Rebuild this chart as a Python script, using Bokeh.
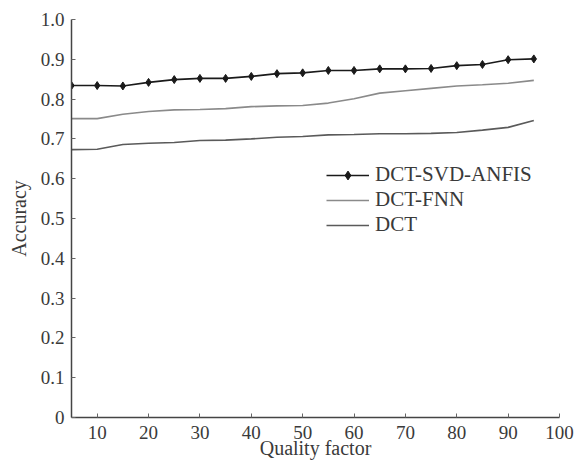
from bokeh.plotting import figure
from bokeh.models import FixedTicker, Legend, LegendItem, Range1d
from bokeh.embed import file_html
from bokeh.resources import INLINE

quality = [5, 10, 15, 20, 25, 30, 35, 40, 45, 50, 55, 60, 65, 70, 75, 80, 85, 90, 95]
dct_svd_anfis = [0.834, 0.834, 0.833, 0.842, 0.849, 0.852, 0.852, 0.857, 0.864, 0.866,
                 0.872, 0.872, 0.876, 0.876, 0.877, 0.884, 0.887, 0.899, 0.901]
dct_fnn = [0.751, 0.751, 0.762, 0.769, 0.773, 0.774, 0.776, 0.781, 0.783, 0.784,
           0.790, 0.801, 0.815, 0.821, 0.827, 0.833, 0.836, 0.840, 0.847]
dct = [0.673, 0.674, 0.686, 0.689, 0.691, 0.696, 0.697, 0.700, 0.704, 0.706,
       0.710, 0.711, 0.713, 0.713, 0.714, 0.716, 0.722, 0.729, 0.746]
x_ticks = [10, 20, 30, 40, 50, 60, 70, 80, 90, 100]
y_ticks = [0, 0.1, 0.2, 0.3, 0.4, 0.5, 0.6, 0.7, 0.8, 0.9, 1.0]
y_tick_labels = ["0", "0.1", "0.2", "0.3", "0.4", "0.5", "0.6", "0.7", "0.8", "0.9", "1.0"]

FONT = "'Liberation Serif', 'Times New Roman', serif"
TXT = "#3a3a3a"

p = figure(width=575, height=462, output_backend="svg", toolbar_location=None,
           x_range=Range1d(5, 100), y_range=Range1d(0, 1.0),
           min_border_left=71, min_border_right=16, min_border_top=19, min_border_bottom=45)
p.outline_line_color = None
p.xgrid.visible = False
p.ygrid.visible = False
p.background_fill_color = "white"

for ax in (p.xaxis[0], p.yaxis[0]):
    ax.axis_line_color = "#444444"
    ax.axis_line_width = 1.5
    ax.major_tick_in = 4
    ax.major_tick_out = 0
    ax.minor_tick_in = 0
    ax.minor_tick_out = 0
    ax.major_tick_line_color = "#666666"
    ax.major_label_text_font = FONT
    ax.major_label_text_font_size = "19px"
    ax.major_label_text_color = TXT
    ax.axis_label_text_font = FONT
    ax.axis_label_text_font_size = "20px"
    ax.axis_label_text_font_style = "normal"
    ax.axis_label_text_color = TXT

p.xaxis.ticker = FixedTicker(ticks=x_ticks)
p.yaxis.ticker = FixedTicker(ticks=y_ticks)
p.yaxis.major_label_overrides = {t: s for t, s in zip(y_ticks, y_tick_labels)}
p.xaxis.axis_label = "Quality factor"
p.yaxis.axis_label = "Accuracy"
p.xaxis.major_label_standoff = 8
p.xaxis.axis_label_standoff = -5
p.yaxis.major_label_standoff = 7
p.yaxis.axis_label_standoff = 8

r1 = p.line(quality, dct_svd_anfis, line_color="#1a1a1a", line_width=1.6)
r1m = p.scatter(quality, dct_svd_anfis, marker="diamond", size=8,
                fill_color="#1a1a1a", line_color="#1a1a1a")
r2 = p.line(quality, dct_fnn, line_color="#8a8a8a", line_width=1.6)
r3 = p.line(quality, dct, line_color="#5a5a5a", line_width=1.6)

legend = Legend(items=[
    LegendItem(label="DCT-SVD-ANFIS", renderers=[r1, r1m]),
    LegendItem(label="DCT-FNN", renderers=[r2]),
    LegendItem(label="DCT", renderers=[r3]),
], location=(255, 180))
legend.border_line_color = None
legend.background_fill_alpha = 0
legend.label_text_font = FONT
legend.label_text_font_size = "21px"
legend.label_text_color = TXT
legend.glyph_width = 43
legend.glyph_height = 22
legend.label_height = 22
legend.spacing = 0
legend.padding = 0
legend.margin = 0
legend.label_standoff = 6
p.add_layout(legend)

open("out.html", "w").write(file_html(p, INLINE))
